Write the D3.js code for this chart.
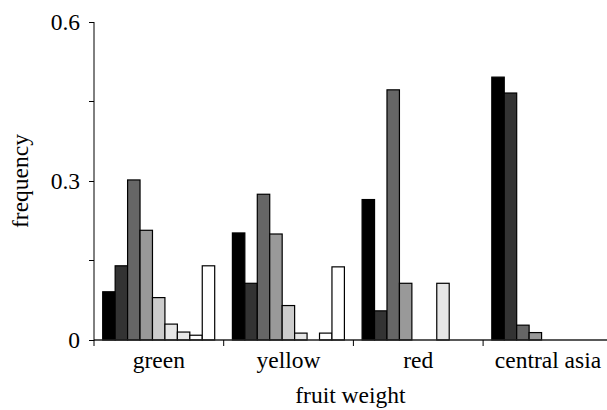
<!DOCTYPE html>
<html>
<head>
<meta charset="utf-8">
<script src="https://cdn.jsdelivr.net/npm/d3@7"></script>
<style>
  body { margin: 0; background: #fff; }
</style>
</head>
<body>
<div id="chart"></div>
<script>
// groups on the x axis
const groups = ["green", "yellow", "red", "central asia"];
// weight classes (9 bars per group), lightest last
const classes = ["c1", "c2", "c3", "c4", "c5", "c6", "c7", "c8", "c9"];
const classColors = ["#000000", "#333333", "#666666", "#999999", "#cccccc", "#e6e6e6", "#e6e6e6", "#ffffff", "#ffffff"];

const greenVals = [0.091, 0.140, 0.302, 0.207, 0.080, 0.030, 0.015, 0.009, 0.140];
const yellowVals = [0.202, 0.107, 0.275, 0.200, 0.065, 0.013, 0, 0.013, 0.138];
const redVals = [0.265, 0.055, 0.472, 0.107, 0, 0, 0.107, 0, 0];
const asiaVals = [0.496, 0.466, 0.028, 0.014, 0, 0, 0, 0, 0];

const yTicks = [0, 0.3, 0.6];
const yMinorTicks = [0.15, 0.45];

const data = [greenVals, yellowVals, redVals, asiaVals];

const FONT = "'Liberation Serif', 'DejaVu Serif', serif";
const FS = "23.5px";

const W = 607, H = 410;
const margin = {top: 22, right: 0, bottom: 70, left: 94};
const width = W - margin.left - margin.right,
      height = H - margin.top - margin.bottom;

const svg = d3.select("#chart")
  .append("svg")
    .attr("width", W)
    .attr("height", H)
    .style("font-family", FONT)
  .append("g")
    .attr("transform", `translate(${margin.left}, ${margin.top})`);

const groupW = 129.7;
const x = d3.scaleBand()
  .domain(groups)
  .range([0, groupW * groups.length]);

const xInner = d3.scaleBand()
  .domain(classes)
  .range([8.7, groupW - 9])
  .padding(0);

const y = d3.scaleLinear()
  .domain([0, 0.6])
  .range([height, 0]);

// bars
const g = svg.selectAll(".grp")
  .data(data)
  .enter()
  .append("g")
    .attr("transform", (d, i) => `translate(${x(groups[i])}, 0)`);

g.selectAll("rect")
  .data(d => d.map((v, j) => ({k: classes[j], v: v, c: classColors[j]})).filter(e => e.v > 0))
  .enter()
  .append("rect")
    .attr("x", d => xInner(d.k))
    .attr("y", d => y(d.v))
    .attr("width", xInner.bandwidth())
    .attr("height", d => height - y(d.v))
    .attr("fill", d => d.c)
    .attr("stroke", "#000")
    .attr("stroke-width", 1.2);

// x axis
svg.append("line")
  .attr("x1", 0).attr("x2", width)
  .attr("y1", height).attr("y2", height)
  .attr("stroke", "#222").attr("stroke-width", 1.5);

svg.selectAll(".xtick")
  .data(groups)
  .enter()
  .append("line")
    .attr("x1", d => x(d)).attr("x2", d => x(d))
    .attr("y1", height).attr("y2", height + 6)
    .attr("stroke", "#000");

svg.selectAll(".xlab")
  .data(groups)
  .enter()
  .append("text")
    .attr("x", d => x(d) + x.bandwidth() / 2)
    .attr("y", height + 28)
    .attr("text-anchor", "middle")
    .style("font-family", FONT)
    .style("font-size", FS)
    .text(d => d);

// y axis
const yAxis = svg.append("g")
  .call(d3.axisLeft(y).tickValues(yTicks).tickSize(5).tickFormat(d => d === 0 ? "0" : d3.format(".1f")(d)));
yAxis.attr("font-family", null).attr("font-size", null);
yAxis.select(".domain").attr("d", `M0,${height + 0.5}V0`).attr("stroke", "#000");
yAxis.selectAll("text")
  .style("font-family", FONT)
  .style("font-size", FS)
  .attr("fill", "#000")
  .attr("x", -14);

svg.selectAll(".minor")
  .data(yMinorTicks)
  .enter()
  .append("line")
    .attr("x1", -5).attr("x2", 0)
    .attr("y1", d => y(d)).attr("y2", d => y(d))
    .attr("stroke", "#000");

// axis titles
svg.append("text")
  .attr("transform", `translate(${-66}, ${height / 2}) rotate(-90)`)
  .attr("text-anchor", "middle")
  .style("font-family", FONT)
  .style("font-size", FS)
  .text("frequency");

svg.append("text")
  .attr("x", x("red") - 3)
  .attr("y", height + 63)
  .attr("text-anchor", "middle")
  .style("font-family", FONT)
  .style("font-size", FS)
  .text("fruit weight");
</script>
</body>
</html>
